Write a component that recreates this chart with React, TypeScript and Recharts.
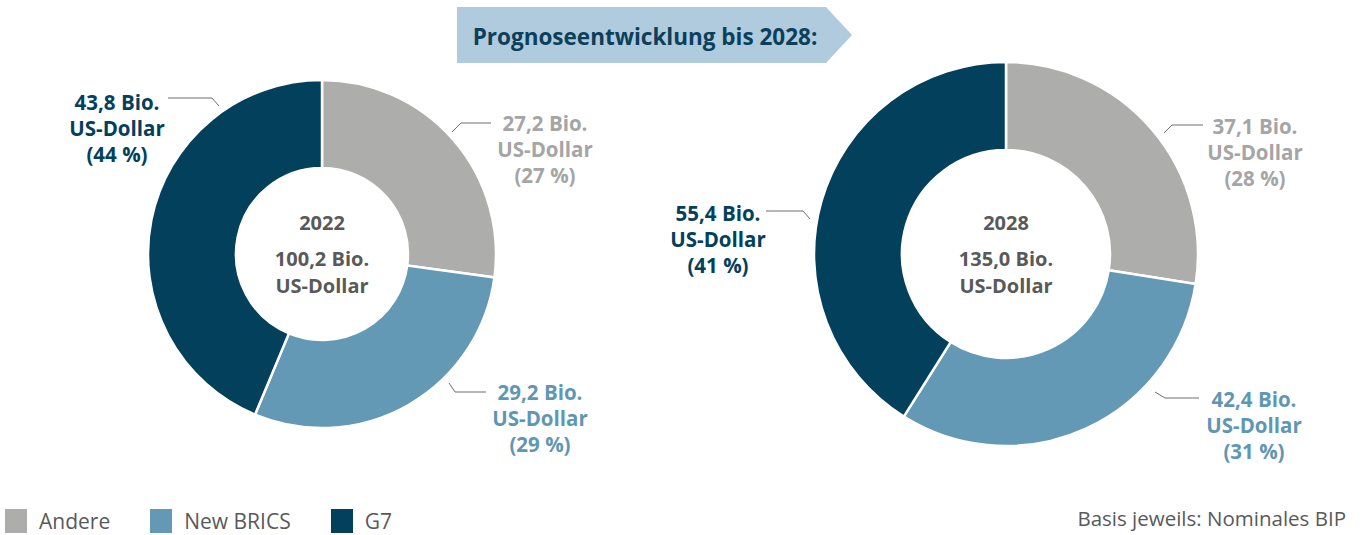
import { PieChart, Pie, Cell } from "recharts";

const categories = ["Andere", "New BRICS", "G7"];
const colors = ["#ADADAC", "#6399B4", "#03405C"];
const labelColors = ["#A5A5A5", "#5F97B3", "#03405C"];

const years = ["2022", "2028"];
const totals = ["100,2", "135,0"];
const values2022 = [27.2, 29.2, 43.8];
const values2028 = [37.1, 42.4, 55.4];
const shares2022 = [27, 29, 44];
const shares2028 = [28, 31, 41];

const W = 1365;
const H = 535;
const FONT = "'Open Sans', Calibri, sans-serif";

// leader line offsets relative to the pie center: start, elbow, end, text x, first line y
type Placement = { sx: number; sy: number; ex: number; ey: number; lx: number; tx: number; ty: number };

const place2022: Placement[] = [
  { sx: 130, sy: -122, ex: 139, ey: -131, lx: 169, tx: 223, ty: -131 },
  { sx: 127, sy: 129, ex: 133, ey: 138, lx: 164, tx: 218, ty: 138 },
  { sx: -103, sy: -148, ex: -110, ey: -156, lx: -154, tx: -205, ty: -152 },
];
const place2028: Placement[] = [
  { sx: 158, sy: -121, ex: 166, ey: -129, lx: 197, tx: 249, ty: -128 },
  { sx: 149, sy: 138, ex: 159, ey: 144, lx: 193, tx: 248, ty: 145 },
  { sx: -196, sy: -35, ex: -203, ey: -43, lx: -240, tx: -288, ty: -41 },
];

const toData = (values: number[], shares: number[]) =>
  categories.map((name, i) => ({ name, value: values[i], share: shares[i] }));

const data2022 = toData(values2022, shares2022);
const data2028 = toData(values2028, shares2028);

const fmt = (v: number) => v.toFixed(1).replace(".", ",");

function makeLabel(places: Placement[], year: string, total: string) {
  return (props: any) => {
    const { cx, cy, index, payload } = props;
    const p = places[index];
    const c = labelColors[index];
    const lines = [`${fmt(payload.value)} Bio.`, "US-Dollar", `(${payload.share} %)`];
    return (
      <g>
        <polyline
          points={`${cx + p.sx},${cy + p.sy} ${cx + p.ex},${cy + p.ey} ${cx + p.lx},${cy + p.ey}`}
          fill="none"
          stroke="#6F6F6F"
          strokeWidth={1}
        />
        {lines.map((t, i) => (
          <text
            key={i}
            x={cx + p.tx}
            y={cy + p.ty + i * 26}
            textAnchor="middle"
            dominantBaseline="central"
            fill={c}
            fontFamily={FONT}
            fontWeight={700}
            fontSize={20.5}
          >
            {t}
          </text>
        ))}
        {index === 0 && (
          <g fontFamily={FONT} fontWeight={700} fontSize={20} fill="#595959" textAnchor="middle">
            <text x={cx} y={cy - 32} dominantBaseline="central">{year}</text>
            <text x={cx} y={cy + 4} dominantBaseline="central">{`${total} Bio.`}</text>
            <text x={cx} y={cy + 31} dominantBaseline="central">US-Dollar</text>
          </g>
        )}
      </g>
    );
  };
}

export default function App() {
  return (
    <div style={{ position: "fixed", left: 0, top: 0, width: W, height: H, background: "#fff" }}>
      <svg width={W} height={70} style={{ position: "absolute", left: 0, top: 0 }}>
        <polygon points="457,7 826,7 852,35 826,63 457,63" fill="#B0CBDD" />
        <text
          x={645}
          y={36}
          textAnchor="middle"
          dominantBaseline="central"
          fontFamily={FONT}
          fontWeight={700}
          fontSize={22.5}
          fill="#0B3F5A"
        >
          Prognoseentwicklung bis 2028:
        </text>
      </svg>
      <div style={{ position: "absolute", left: 0, top: 0 }}>
        <PieChart width={W} height={H} margin={{ top: 0, right: 0, bottom: 0, left: 0 }}>
          <Pie
            data={data2022}
            dataKey="value"
            nameKey="name"
            cx={322}
            cy={254}
            innerRadius={86}
            outerRadius={174}
            startAngle={90}
            endAngle={-270}
            stroke="#fff"
            strokeWidth={2.5}
            label={makeLabel(place2022, years[0], totals[0])}
            labelLine={false}
            isAnimationActive={false}
          >
            {data2022.map((d, i) => (
              <Cell key={d.name} fill={colors[i]} />
            ))}
          </Pie>
          <Pie
            data={data2028}
            dataKey="value"
            nameKey="name"
            cx={1006}
            cy={254}
            innerRadius={104}
            outerRadius={192}
            startAngle={90}
            endAngle={-270}
            stroke="#fff"
            strokeWidth={2.5}
            label={makeLabel(place2028, years[1], totals[1])}
            labelLine={false}
            isAnimationActive={false}
          >
            {data2028.map((d, i) => (
              <Cell key={d.name} fill={colors[i]} />
            ))}
          </Pie>
        </PieChart>
      </div>
      <div
        style={{
          position: "absolute",
          left: 5,
          top: 507,
          display: "flex",
          alignItems: "center",
          fontFamily: FONT,
          fontSize: 21,
          color: "#595959",
        }}
      >
        {categories.map((c, i) => (
          <div key={c} style={{ display: "flex", alignItems: "center", marginRight: 40 }}>
            <span style={{ width: 22, height: 24, background: colors[i], display: "inline-block", marginRight: 12 }} />
            <span>{c}</span>
          </div>
        ))}
      </div>
      <div
        style={{
          position: "absolute",
          right: 19,
          top: 505,
          fontFamily: FONT,
          fontSize: 20.5,
          color: "#595959",
          lineHeight: "26px",
        }}
      >
        Basis jeweils: Nominales BIP
      </div>
    </div>
  );
}
